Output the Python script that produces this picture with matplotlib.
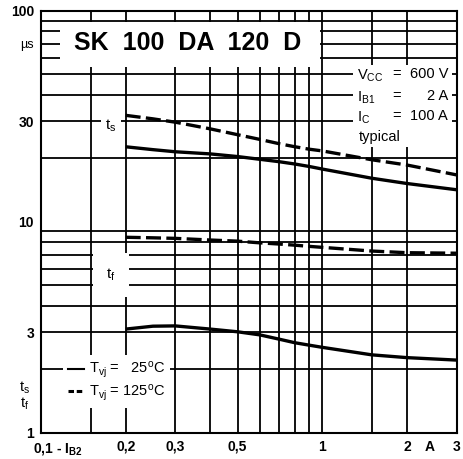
import numpy as np
import matplotlib
matplotlib.use("Agg")
import matplotlib.pyplot as plt
from matplotlib.patches import Rectangle
from matplotlib.lines import Line2D

plt.rcParams['font.family'] = ['Liberation Sans', 'DejaVu Sans']
plt.rcParams['mathtext.default'] = 'regular'

# base current I_B2 (A) and switching times (us)
i_b2 = [0.2, 0.25, 0.3, 0.4, 0.5, 0.6, 0.7, 0.8, 0.9, 1.0, 1.5, 2.0, 3.0]
ts_25 = [22.7, 22.0, 21.5, 21.0, 20.4, 19.8, 19.3, 18.8, 18.3, 17.8, 16.1, 15.2, 14.2]
ts_125 = [32.0, 30.8, 29.7, 27.6, 25.9, 24.6, 23.5, 22.7, 22.1, 21.7, 19.7, 18.6, 16.7]
tf_25 = [3.10, 3.20, 3.21, 3.10, 3.01, 2.91, 2.78, 2.67, 2.60, 2.54, 2.34, 2.27, 2.21]
tf_125 = [8.45, 8.40, 8.35, 8.20, 8.10, 7.95, 7.85, 7.75, 7.65, 7.57, 7.27, 7.14, 7.10]

x_grid = [0.15, 0.2, 0.3, 0.4, 0.5, 0.6, 0.7, 0.8, 0.9, 1.0, 1.5, 2.0]
y_grid = [2, 3, 4, 5, 6, 7, 8, 9, 20, 30, 40, 50, 60, 70, 80, 90]
x_ticks = [0.2, 0.3, 0.5, 1.0, 2.0, 2.4, 3.0]
x_labels = ['0,2', '0,3', '0,5', '1', '2', 'A', '3']
y_ticks = [1, 3, 10, 30, 70, 100]
y_labels = ['1', '3', '10', '30', 'µs', '100']

W, H = 463, 459
L, R, T, B = 41, 456.5, 11, 432.7
fig = plt.figure(figsize=(W/100, H/100), dpi=100)
ax = fig.add_axes([L/W, (H-B)/H, (R-L)/W, (B-T)/H])
ax.set_xscale('log')
ax.set_yscale('log')
ax.set_xlim(0.1, 3)
ax.set_ylim(1, 100)

def ax_frac(px, py):
    return (px-L)/(R-L), (B-py)/(B-T)

for v in x_grid:
    ax.axvline(v, color='k', lw=1.3, zorder=1)
for v in y_grid:
    ax.axhline(v, color='k', lw=1.3, zorder=1)

# white panels that interrupt the grid
def panel(x0, y0, x1, y1):
    a0 = ax_frac(x0, y1)
    a1 = ax_frac(x1, y0)
    ax.add_patch(Rectangle(a0, a1[0]-a0[0], a1[1]-a0[1], transform=ax.transAxes,
                           facecolor='white', edgecolor='none', zorder=2))

panel(60, 22, 320, 67)
panel(353, 65, 452, 147)

# curves
ax.plot(i_b2, ts_25, color='k', lw=2.4, zorder=3, solid_capstyle='butt')
ax.plot(i_b2, tf_25, color='k', lw=2.4, zorder=3, solid_capstyle='butt')
ax.plot(i_b2, ts_125, color='k', lw=2.4, ls=(0, (4.5, 1.6)), zorder=3)
ax.plot(i_b2, tf_125, color='k', lw=2.4, ls=(0, (4.5, 1.6)), zorder=3)

for sp in ax.spines.values():
    sp.set_linewidth(1.5)
    sp.set_zorder(5)

ax.xaxis.set_minor_locator(matplotlib.ticker.NullLocator())
ax.yaxis.set_minor_locator(matplotlib.ticker.NullLocator())
ax.set_xticks(x_ticks)
ax.set_xticklabels(x_labels, fontsize=10, fontweight='bold')
ax.set_yticks(y_ticks)
ax.set_yticklabels(y_labels, fontsize=10, fontweight='bold')
ax.get_yticklabels()[4].set_fontweight('normal')
ax.get_yticklabels()[4].set_fontsize(9)
ax.tick_params(length=0)
ax.tick_params(axis='x', pad=5)
ax.tick_params(axis='y', pad=5)

ax.annotate(r'0,1 - $I_{B2}$', xy=(0, 0), xycoords='axes fraction',
            xytext=(-8, -8), textcoords='offset pixels', ha='left', va='top',
            fontsize=10, fontweight='bold')

# title
ax.text(*ax_frac(188, 43), 'SK  100  DA  120  D', transform=ax.transAxes,
        ha='center', va='center', fontsize=18, fontweight='bold', zorder=4)

# conditions
rows = [(r'$V_{CC}$', '600 V', 76), (r'$I_{B1}$', '2 A', 98), (r'$I_C$', '100 A', 118)]
for lab, val, py in rows:
    ax.text(*ax_frac(357, py), lab, transform=ax.transAxes, ha='left', va='center', fontsize=10.5, zorder=4)
    ax.text(*ax_frac(397, py - 2), '=', transform=ax.transAxes, ha='center', va='center', fontsize=10.5, zorder=4)
    ax.text(*ax_frac(448, py - 2), val, transform=ax.transAxes, ha='right', va='center', fontsize=10.5, zorder=4)
ax.text(*ax_frac(359, 137), 'typical', transform=ax.transAxes, ha='left', va='center', fontsize=10.5, zorder=4)

# curve names
ax.text(*ax_frac(111, 126), r'$t_s$', transform=ax.transAxes, ha='center', va='center', fontsize=11,
        zorder=4, bbox=dict(boxstyle='square,pad=0.3', fc='white', ec='none'))
ax.text(*ax_frac(111, 275), r'$t_f$', transform=ax.transAxes, ha='center', va='center', fontsize=11,
        zorder=4, bbox=dict(boxstyle='square,pad=0.9', fc='white', ec='none'))
fig.text(25/W, (H-388)/H, r'$t_s$', ha='center', va='center', fontsize=10.5)
fig.text(25/W, (H-404)/H, r'$t_f$', ha='center', va='center', fontsize=10.5)

# legend
handles = [Line2D([], [], color='k', lw=1.5),
           Line2D([], [], color='k', lw=2.2, ls=(0, (1.8, 0.9)))]
labels = [r'$T_{vj}$ =   25$^{o}$C', r'$T_{vj}$ = 125$^{o}$C']
leg = ax.legend(handles, labels, loc='lower left', bbox_to_anchor=ax_frac(63, 408),
                borderaxespad=0, frameon=True, fancybox=False, framealpha=1,
                edgecolor='none', facecolor='white', fontsize=10.5, handlelength=1.1,
                handletextpad=0.3, labelspacing=0.15, borderpad=0.35)
leg.set_zorder(4)

fig.savefig('out.png', dpi=100)
